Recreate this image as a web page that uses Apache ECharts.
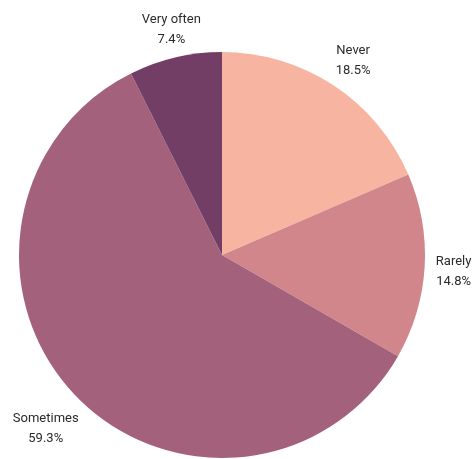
<!DOCTYPE html>
<html><head><meta charset="utf-8">
<script src="https://cdn.jsdelivr.net/npm/echarts@6/dist/echarts.min.js"></script>
<style>html,body{margin:0;padding:0;background:#fff}#c{width:473px;height:459px}</style>
</head><body><div id="c"></div>
<script>
const categories = ['Never', 'Rarely', 'Sometimes', 'Very often'];
const values = [18.5, 14.8, 59.3, 7.4];

// styling / layout (not data)
const colors = ['#F7B4A1', '#D1868B', '#A3617B', '#733E66'];
const labelNudge = [[1, 4], [-5, 3], [-4, 11], [4, 5]];

const slices = categories.map((c, i) => ({ name: c, value: values[i] }));
const labelSlices = categories.map((c, i) => ({ name: c, value: values[i], label: { offset: labelNudge[i] } }));

const chart = echarts.init(document.getElementById('c'), null, { renderer: 'canvas' });
chart.setOption({
  animation: false,
  color: colors,
  series: [
    {
      type: 'pie',
      center: [222, 255],
      radius: [0, 203],
      startAngle: 90,
      clockwise: true,
      silent: true,
      data: slices,
      itemStyle: { borderWidth: 0 },
      label: { show: false },
      labelLine: { show: false }
    },
    {
      type: 'pie',
      center: [222, 255],
      radius: [220, 248],
      startAngle: 90,
      clockwise: true,
      silent: true,
      data: labelSlices,
      itemStyle: { color: 'rgba(0,0,0,0)', borderWidth: 0 },
      label: {
        show: true,
        position: 'inside',
        formatter: p => p.name + '\n' + p.value.toFixed(1) + '%',
        fontFamily: 'Roboto',
        fontSize: 13,
        lineHeight: 20,
        color: '#2b2b2b',
        align: 'center'
      },
      labelLine: { show: false }
    }
  ]
});
</script></body></html>
